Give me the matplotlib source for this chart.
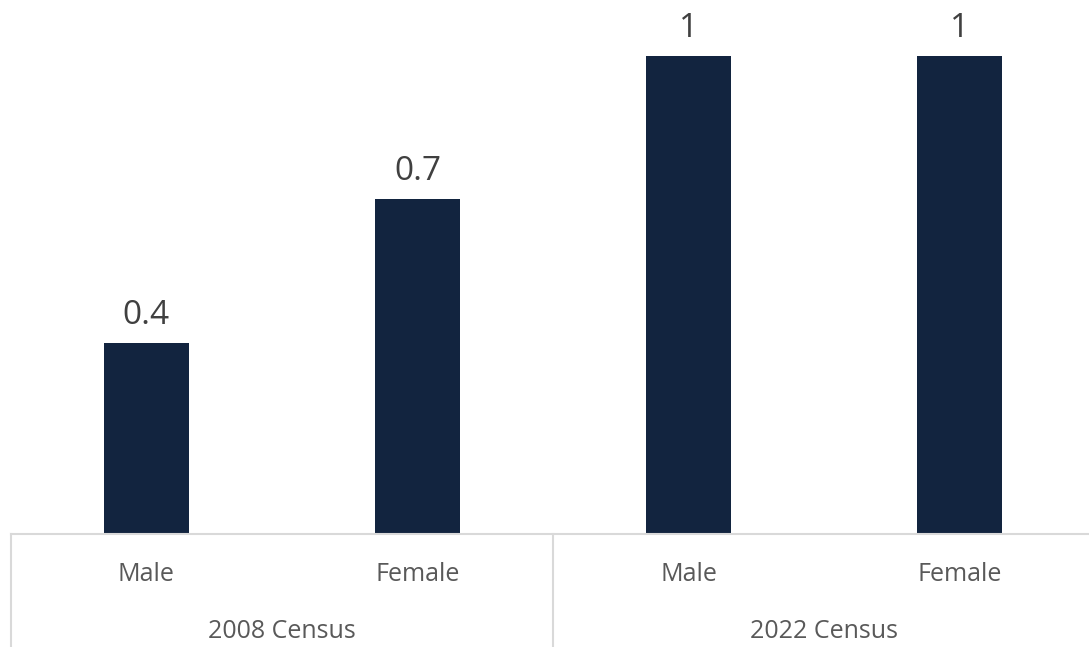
import matplotlib.pyplot as plt
import matplotlib.transforms as mtransforms

# data
categories = ["Male", "Female", "Male", "Female"]
groups = ["2008 Census", "2022 Census"]
values = [0.4, 0.7, 1, 1]
value_labels = ["0.4", "0.7", "1", "1"]

plt.rcParams['font.family'] = ['Open Sans', 'DejaVu Sans']

W, H = 1089, 647
fig = plt.figure(figsize=(W / 100, H / 100), dpi=100)
# axes extends a little past the right edge (chart is cropped there)
left, right, base = 10.5, 1095.5, 534
ax = fig.add_axes([left / W, (H - base) / H, (right - left) / W, base / H])

x = range(len(values))
bars = ax.bar(x, values, width=85 / 271, color="#12243f")
ax.set_xlim(-0.5, len(values) - 0.5)
ax.set_ylim(0, base / 478)

for b, lab in zip(bars, value_labels):
    ax.annotate(lab, (b.get_x() + b.get_width() / 2, b.get_height()),
                xytext=(0, 8), textcoords="offset points",
                ha="center", va="bottom", fontsize=24, color="#404040")

for s in ["top", "left", "right"]:
    ax.spines[s].set_visible(False)
ax.spines["bottom"].set_color("#d9d9d9")
ax.spines["bottom"].set_linewidth(1.5)
ax.set_yticks([])
ax.set_xticks(list(x))
ax.set_xticklabels(categories, fontsize=18, color="#595959")
ax.tick_params(axis="x", length=0, pad=20)

# group separators and group labels
trans = mtransforms.blended_transform_factory(ax.transData, fig.transFigure)
for xs in [-0.5, 1.5, 3.5]:
    ax.plot([xs, xs], [0, (H - base) / H], transform=trans, color="#d9d9d9",
            lw=1.5, clip_on=False)
for i, g in enumerate(groups):
    ax.text(2 * i + 0.5, (H - 631) / H, g, transform=trans, ha="center",
            va="center", fontsize=18, color="#595959")

fig.savefig("out.png", dpi=100)
